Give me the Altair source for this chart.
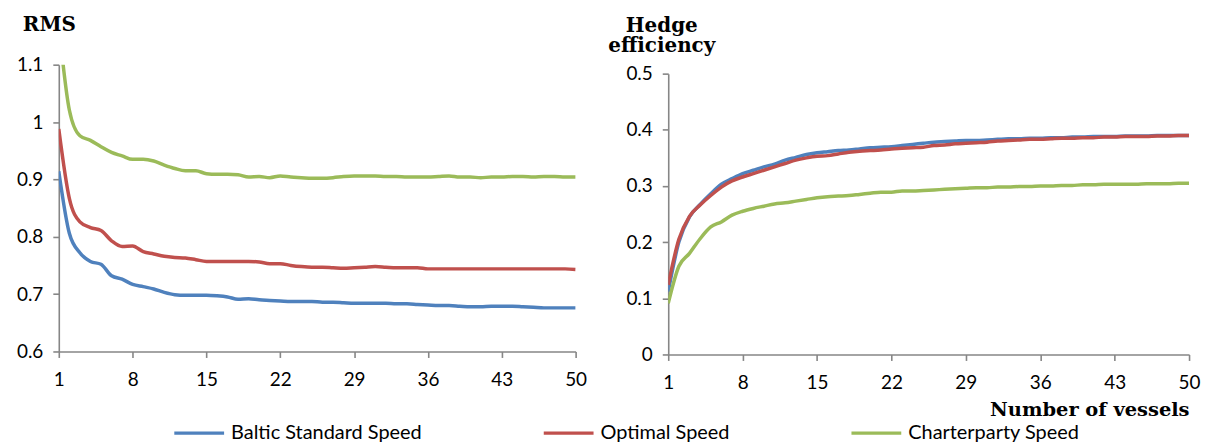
import pandas as pd
import altair as alt

# number of vessels on the x axis of both panels
vessels = list(range(1, 51))

series_names = ["Baltic Standard Speed", "Optimal Speed", "Charterparty Speed"]
series_colors = ["#4F81BD", "#C0504D", "#9BBB59"]

# left panel: RMS
rms_baltic = [0.914, 0.806, 0.772, 0.757, 0.752, 0.732, 0.726, 0.717, 0.713, 0.709,
              0.703, 0.699, 0.698, 0.698, 0.698, 0.697, 0.695, 0.691, 0.692, 0.690,
              0.689, 0.688, 0.687, 0.687, 0.687, 0.686, 0.686, 0.685, 0.684, 0.684,
              0.684, 0.684, 0.683, 0.683, 0.682, 0.681, 0.680, 0.680, 0.679, 0.678,
              0.678, 0.679, 0.679, 0.679, 0.678, 0.677, 0.676, 0.676, 0.676, 0.676]
rms_optimal = [0.988, 0.867, 0.826, 0.816, 0.811, 0.793, 0.783, 0.784, 0.774, 0.770,
               0.766, 0.764, 0.763, 0.760, 0.757, 0.757, 0.757, 0.757, 0.757, 0.756,
               0.753, 0.753, 0.750, 0.748, 0.747, 0.747, 0.746, 0.745, 0.746, 0.747,
               0.748, 0.747, 0.746, 0.746, 0.746, 0.744, 0.744, 0.744, 0.744, 0.744,
               0.744, 0.744, 0.744, 0.744, 0.744, 0.744, 0.744, 0.744, 0.744, 0.743]
rms_charter = [1.170, 1.021, 0.976, 0.968, 0.957, 0.947, 0.941, 0.935, 0.935, 0.932,
               0.925, 0.919, 0.915, 0.915, 0.910, 0.909, 0.909, 0.908, 0.904, 0.905,
               0.903, 0.906, 0.904, 0.903, 0.902, 0.902, 0.903, 0.905, 0.906, 0.906,
               0.906, 0.905, 0.905, 0.904, 0.904, 0.904, 0.905, 0.906, 0.904, 0.904,
               0.903, 0.904, 0.904, 0.905, 0.905, 0.904, 0.905, 0.905, 0.904, 0.904]

# right panel: hedge efficiency
he_baltic = [0.112, 0.200, 0.245, 0.267, 0.286, 0.303, 0.313, 0.322, 0.328, 0.334,
             0.339, 0.346, 0.351, 0.356, 0.359, 0.361, 0.363, 0.364, 0.366, 0.368,
             0.369, 0.370, 0.372, 0.374, 0.376, 0.378, 0.379, 0.380, 0.381, 0.381,
             0.382, 0.383, 0.384, 0.384, 0.385, 0.385, 0.386, 0.386, 0.387, 0.387,
             0.388, 0.388, 0.388, 0.389, 0.389, 0.389, 0.390, 0.390, 0.390, 0.390]
he_optimal = [0.124, 0.205, 0.246, 0.266, 0.283, 0.298, 0.309, 0.316, 0.322, 0.328,
              0.334, 0.340, 0.346, 0.350, 0.353, 0.354, 0.357, 0.360, 0.362, 0.363,
              0.364, 0.366, 0.367, 0.368, 0.369, 0.372, 0.373, 0.375, 0.376, 0.377,
              0.378, 0.380, 0.381, 0.382, 0.383, 0.383, 0.384, 0.385, 0.385, 0.386,
              0.386, 0.387, 0.387, 0.388, 0.388, 0.388, 0.389, 0.389, 0.390, 0.390]
he_charter = [0.091, 0.157, 0.180, 0.206, 0.227, 0.236, 0.248, 0.255, 0.260, 0.264,
              0.268, 0.270, 0.273, 0.276, 0.279, 0.281, 0.282, 0.283, 0.285, 0.287,
              0.289, 0.289, 0.291, 0.291, 0.292, 0.293, 0.294, 0.295, 0.296, 0.297,
              0.297, 0.298, 0.298, 0.299, 0.299, 0.300, 0.300, 0.301, 0.301, 0.302,
              0.302, 0.303, 0.303, 0.303, 0.303, 0.304, 0.304, 0.304, 0.305, 0.305]

x_ticks = [1, 8, 15, 22, 29, 36, 43, 50]
rms_ticks = [0.6, 0.7, 0.8, 0.9, 1.0, 1.1]
he_ticks = [0, 0.1, 0.2, 0.3, 0.4, 0.5]


def long_table(series_values):
    rows = []
    for name, values in zip(series_names, series_values):
        for n, v in zip(vessels, values):
            rows.append({"vessels": n, "value": v, "series": name})
    return pd.DataFrame(rows)


rms_df = long_table([rms_baltic, rms_optimal, rms_charter])
he_df = long_table([he_baltic, he_optimal, he_charter])

label_font = "Lato"
title_font = "DejaVu Serif"
axis_grey = "#868686"

color = alt.Color(
    "series:N",
    scale=alt.Scale(domain=series_names, range=series_colors),
    legend=alt.Legend(
        title=None, orient="none", legendX=114, legendY=343,
        direction="horizontal", columns=3, symbolType="stroke",
        symbolSize=2500, symbolStrokeWidth=3.5, labelFont=label_font,
        labelFontSize=20, labelColor="black", labelOffset=5, labelLimit=300,
        columnPadding=115,
    ),
)


def x_axis(title=None):
    opts = dict(values=x_ticks, labelFont=label_font, labelFontSize=19,
                labelColor="black", labelPadding=13, labelFlush=False, tickSize=6)
    if title:
        opts.update(title=title, titleFont=title_font, titleFontSize=19.5,
                    titleFontWeight="bold", titleColor="black", titleAnchor="end",
                    titleAlign="right", titlePadding=8)
    else:
        opts.update(title=None)
    return alt.Axis(**opts)


def y_axis(values, title, title_x, title_y):
    return alt.Axis(values=values, format="~g", title=title, titleAngle=0,
                    titleX=title_x, titleY=title_y, titleAlign="center",
                    titleBaseline="alphabetic", titleLineHeight=20,
                    titleFont=title_font, titleFontSize=20, titleFontWeight="bold",
                    titleColor="black", labelFont=label_font, labelFontSize=19,
                    labelColor="black", labelPadding=10, tickSize=6)


rms_chart = alt.Chart(rms_df).mark_line(strokeWidth=3.5, interpolate="monotone", clip=True).encode(
    x=alt.X("vessels:Q", scale=alt.Scale(domain=[1, 50], nice=False, zero=False), axis=x_axis()),
    y=alt.Y("value:Q", scale=alt.Scale(domain=[0.6, 1.1], nice=False, zero=False),
            axis=y_axis(rms_ticks, "RMS", -10, -34)),
    color=color,
).properties(width=519, height=288)

# right plot sits 9px lower than the left one: its y range starts below the panel top
he_chart = alt.Chart(he_df).mark_line(strokeWidth=3.5, interpolate="monotone", clip=True).encode(
    x=alt.X("vessels:Q", scale=alt.Scale(domain=[1, 50], nice=False, zero=False),
            axis=x_axis("Number of vessels")),
    y=alt.Y("value:Q", scale=alt.Scale(domain=[0, 0.5], nice=False, range=[291, 9]),
            axis=y_axis(he_ticks, ["Hedge", "efficiency"], -7, -33)),
    color=color,
).properties(width=523, height=291)

chart = alt.hconcat(rms_chart, he_chart, spacing=20, padding={"left": 8, "top": 6, "right": 0, "bottom": 0}).configure_view(
    stroke=None
).configure_axis(
    domainColor=axis_grey, domainWidth=1.6, tickColor=axis_grey, tickWidth=1.6, grid=False
)

chart.save("out.html", embed_options={"renderer": "svg", "actions": False})
